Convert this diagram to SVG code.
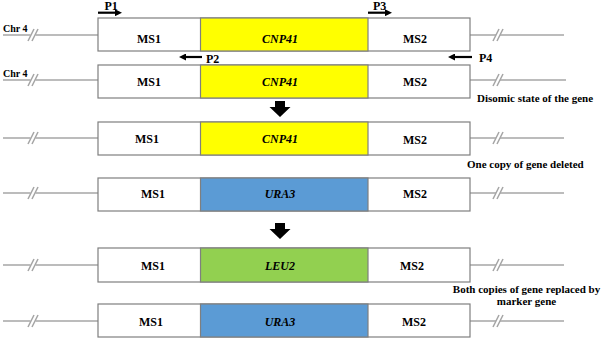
<svg xmlns="http://www.w3.org/2000/svg" xmlns:xlink="http://www.w3.org/1999/xlink" width="602" height="339" viewBox="0 0 602 339">
<defs>
<style>
.chr{stroke:#a6a6a6;stroke-width:1.5;fill:none}
.box{stroke:#7f7f7f;stroke-width:1.2;fill:#fff}
.seg{stroke:#7f7f7f;stroke-width:1.2}
.y{fill:#ffff00}
.b{fill:#5b9bd5}
.g{fill:#92d050}
.t{font-family:"Liberation Serif","Times New Roman",serif;font-weight:bold;fill:#000}
.ms{font-size:12px;text-anchor:middle}
.gene{font-size:12px;font-style:italic;text-anchor:middle}
.lbl{font-size:11px}
.chrl{font-size:10px}
.pl{font-size:12px}
.primer{stroke:#000;stroke-width:2.2;fill:none;marker-end:url(#ah)}
.down{fill:#000}
</style>
<marker id="ah" markerWidth="7" markerHeight="7" refX="3" refY="3.5" orient="auto" markerUnits="userSpaceOnUse"><path d="M0,0 L7,3.5 L0,7 z" fill="#000"/></marker>
<g id="brk" class="chr"><line x1="-3" y1="6" x2="3" y2="-6"/><line x1="1" y1="6" x2="7" y2="-6"/></g>
</defs>
<rect width="602" height="339" fill="#fff"/>

<g id="row1">
<path class="chr" d="M3,35 H30.5 M35.5,35 H98 M470,35 H496 M500,35 H564"/>
<use xlink:href="#brk" x="31" y="35"/><use xlink:href="#brk" x="496" y="35"/>
<rect class="box" x="98" y="18" width="372" height="33"/>
<rect class="seg y" x="200.5" y="18" width="167.5" height="33"/>
<text class="t chrl" x="3" y="32">Chr 4</text>
<text class="t ms" x="149" y="42.5">MS1</text>
<text class="t gene" x="280" y="42.5">CNP41</text>
<text class="t ms" x="415" y="42.5">MS2</text>
</g>

<g id="row2">
<path class="chr" d="M3,80 H30.5 M35.5,80 H98 M470,80 H496 M500,80 H566"/>
<use xlink:href="#brk" x="31" y="80"/><use xlink:href="#brk" x="496" y="80"/>
<rect class="box" x="98" y="65" width="372" height="33"/>
<rect class="seg y" x="200.5" y="65" width="167.5" height="33"/>
<text class="t chrl" x="3" y="77">Chr 4</text>
<text class="t ms" x="149" y="86">MS1</text>
<text class="t gene" x="280" y="86">CNP41</text>
<text class="t ms" x="415" y="86">MS2</text>
<text class="t lbl" x="477" y="101.5">Disomic state of the gene</text>
</g>

<g id="primers">
<line class="primer" x1="98" y1="12.7" x2="118" y2="12.7"/>
<text class="t pl" x="104.5" y="10">P1</text>
<line class="primer" x1="368" y1="12.7" x2="388" y2="12.7"/>
<text class="t pl" x="373" y="9.5">P3</text>
<line class="primer" x1="202" y1="57" x2="183" y2="57"/>
<text class="t pl" x="206" y="62.5">P2</text>
<line class="primer" x1="472" y1="57" x2="452" y2="57"/>
<text class="t pl" x="479" y="62">P4</text>
</g>

<g id="row3">
<path class="chr" d="M3,138 H30.5 M35.5,138 H98 M470,138 H496 M500,138 H564"/>
<use xlink:href="#brk" x="31" y="138"/><use xlink:href="#brk" x="496" y="138"/>
<rect class="box" x="98" y="122" width="372" height="33"/>
<rect class="seg y" x="200.5" y="122" width="167.5" height="33"/>
<text class="t ms" x="147" y="143">MS1</text>
<text class="t gene" x="280" y="143">CNP41</text>
<text class="t ms" x="415" y="144">MS2</text>
<text class="t lbl" x="467" y="168">One copy of gene deleted</text>
</g>

<g id="row4">
<path class="chr" d="M3,193 H30.5 M35.5,193 H98 M470,193 H496 M500,193 H564"/>
<use xlink:href="#brk" x="31" y="193"/><use xlink:href="#brk" x="496" y="193"/>
<rect class="box" x="98" y="178" width="372" height="33"/>
<rect class="seg b" x="200.5" y="178" width="167.5" height="33"/>
<text class="t ms" x="153" y="198">MS1</text>
<text class="t gene" x="280" y="198">URA3</text>
<text class="t ms" x="415" y="198">MS2</text>
</g>

<g id="row5">
<path class="chr" d="M3,265 H30.5 M35.5,265 H98 M470,265 H496 M500,265 H564"/>
<use xlink:href="#brk" x="31" y="265"/><use xlink:href="#brk" x="496" y="265"/>
<rect class="box" x="98" y="248" width="372" height="34"/>
<rect class="seg g" x="200.5" y="248" width="167.5" height="34"/>
<text class="t ms" x="153" y="270">MS1</text>
<text class="t gene" x="280" y="270">LEU2</text>
<text class="t ms" x="412" y="270">MS2</text>
<text class="t lbl" x="526.5" y="293" text-anchor="middle">Both copies of gene replaced by</text>
<text class="t lbl" x="526.5" y="305" text-anchor="middle">marker gene</text>
</g>

<g id="row6">
<path class="chr" d="M3,321 H30.5 M35.5,321 H98 M470,321 H496 M500,321 H564"/>
<use xlink:href="#brk" x="31" y="321"/><use xlink:href="#brk" x="496" y="321"/>
<rect class="box" x="98" y="304" width="372" height="33"/>
<rect class="seg b" x="200.5" y="304" width="167.5" height="33"/>
<text class="t ms" x="151" y="325.5">MS1</text>
<text class="t gene" x="280" y="325.5">URA3</text>
<text class="t ms" x="414" y="325.5">MS2</text>
</g>

<g id="connectors">
<path class="down" d="M275,101 h10 v6 h5.5 l-10.5,10 l-10.5,-10 h5.5 z"/>
<path class="down" d="M275,223 h10 v6 h5.5 l-10.5,10 l-10.5,-10 h5.5 z"/>
</g>
</svg>
